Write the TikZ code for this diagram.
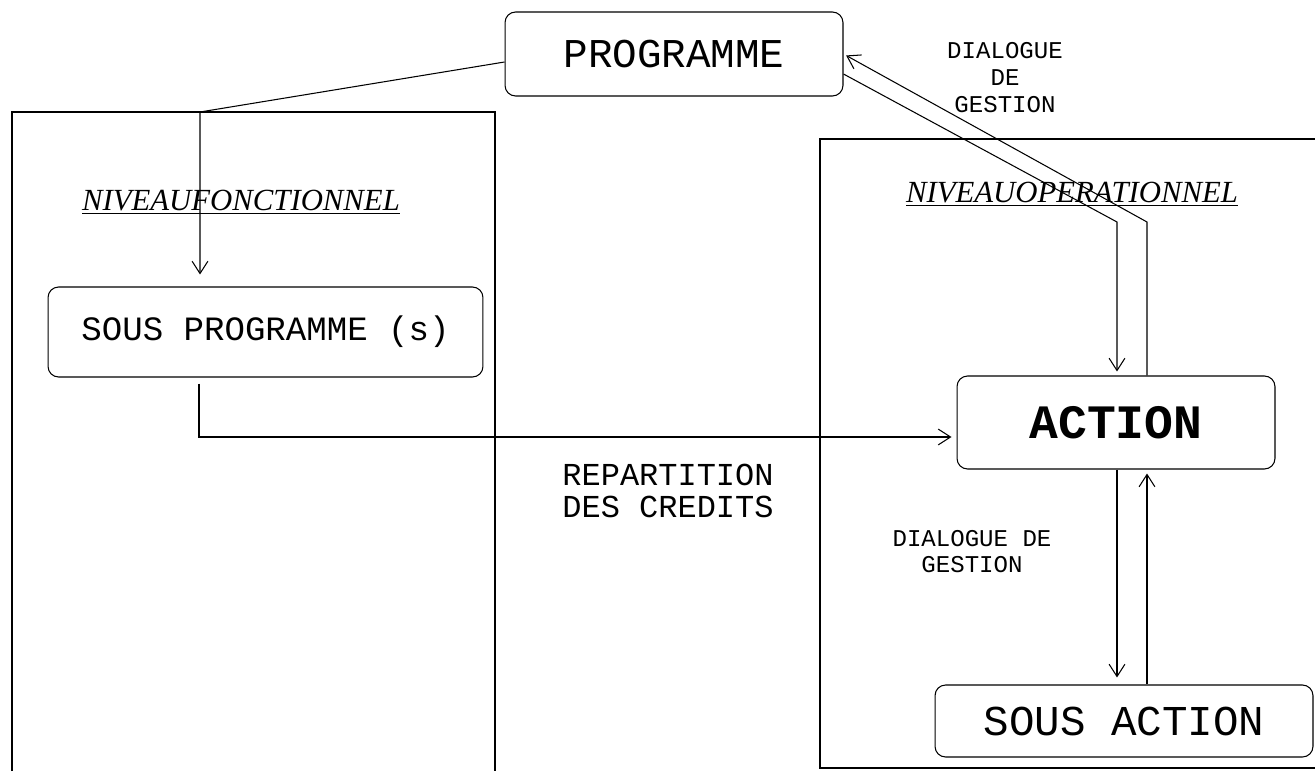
\documentclass[tikz,border=0pt]{standalone}
\usepackage{fontspec}
\setmainfont{Liberation Serif}
\setmonofont{Liberation Mono}
\usetikzlibrary{arrows.meta}

\begin{document}
\begin{tikzpicture}[x=0.02cm,y=-0.02cm,>={Straight Barb[length=7pt,width=9pt]},line width=0.6pt,
    box node/.style={draw,rounded corners=6pt,inner sep=0pt},
    frame/.style={line width=0.9pt},
    label node/.style={align=center,font=\ttfamily\fontsize{13.7}{15.4}\selectfont},
    level node/.style={anchor=base,font=\itshape\fontsize{17.5}{20}\selectfont}]
    \useasboundingbox (0,0) rectangle (1315,771);

    % the two levels
    \draw[frame] (12,771) -- (12,112) -- (495,112) -- (495,771);
    \draw[frame] (1315,139) -- (820,139) -- (820,768) -- (1315,768);
    \node[level node] (fonct) at (241,210) {\underline{NIVEAUFONCTIONNEL}};
    \node[level node] (oper) at (1072,202) {\underline{NIVEAUOPERATIONNEL}};

    \node[box node,minimum width=6.76cm,minimum height=1.68cm,font=\ttfamily\fontsize{23.3}{26}\selectfont] (prog) at (674,54) {PROGRAMME};
    \node[box node,minimum width=8.7cm,minimum height=1.8cm,font=\ttfamily\fontsize{19.4}{22}\selectfont] (sprog) at (265.5,332) {SOUS PROGRAMME (s)};
    \node[box node,minimum width=6.36cm,minimum height=1.86cm,font=\ttfamily\bfseries\fontsize{27.3}{30}\selectfont] (action) at (1116,422.5) {ACTION};
    \node[box node,minimum width=7.56cm,minimum height=1.44cm,font=\ttfamily\fontsize{24.2}{27}\selectfont] (saction) at (1124,721) {SOUS ACTION};

    \node[label node] (dlg top) at (1005,78) {DIALOGUE\\DE\\GESTION};
    \node[label node,font=\ttfamily\fontsize{13.7}{14.8}\selectfont] (dlg low) at (972,552) {DIALOGUE DE\\GESTION};
    \node[label node,font=\ttfamily\fontsize{18.2}{18.2}\selectfont] (credits) at (668,491) {REPARTITION\\DES CREDITS};

    \coordinate (fork) at (200,112);
    \coordinate (down bend) at (1117,222);
    \coordinate (up bend) at (1147,222);

    \draw[->,shorten >=0.24cm] ([yshift=-0.16cm]prog.west) -- (fork) -- (fork |- sprog.north);
    \draw[->,shorten <=0.12cm,shorten >=0.1cm] ([xshift=-1.33cm]sprog.south) |- ([yshift=-0.29cm]action.west);
    \draw[->,shorten >=0.08cm] ([yshift=-0.4cm]prog.east) -- (down bend) -- (down bend |- action.north);
    \draw[->,shorten >=0.06cm] (up bend |- action.north) -- (up bend) -- (prog.east);
    \draw[->,shorten >=0.14cm] (down bend |- action.south) -- (down bend |- saction.north);
    \draw[->,shorten >=0.08cm] (up bend |- saction.north) -- (up bend |- action.south);
\end{tikzpicture}
\end{document}
